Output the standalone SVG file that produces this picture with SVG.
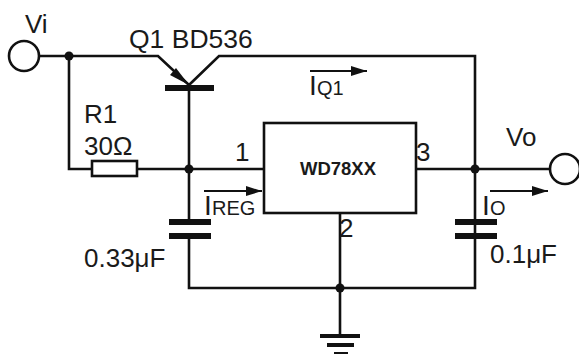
<svg xmlns="http://www.w3.org/2000/svg" width="579" height="354" viewBox="0 0 579 354">
<style>
.w{fill:none;stroke:#111;stroke-width:2.6}
.b{fill:#111;stroke:none}
.t{stroke-width:2}
text{font-family:"Liberation Sans",Arial,sans-serif;fill:#1a1a1a}
.l{font-size:26px}
.i{font-size:28px}
.s{font-size:20px}
</style>
<defs><marker id="a" markerUnits="userSpaceOnUse" markerWidth="18" markerHeight="12" refX="16" refY="6" orient="auto"><path d="M0 1L16 6L0 11Z" fill="#111"/></marker></defs>
<rect width="579" height="354" fill="#fff"/>
<g id="connectors">
<path class="w" d="M39 56H158L189 85M189 85L219 56H475V288H189V238M69 56V169H92M137 169H264M189 88V222M416 169H550M475 169V222M340 213V336"/>
<path class="b" d="M189 85L170 75L176 68Z"/>
<circle class="b" cx="69" cy="56" r="4.5"/><circle class="b" cx="189" cy="169" r="4.5"/><circle class="b" cx="475" cy="169" r="4.5"/><circle class="b" cx="340" cy="288" r="4.5"/>
<path class="w t" d="M310 71H367" marker-end="url(#a)"/>
<path class="w t" d="M204 191H262" marker-end="url(#a)"/>
<path class="w t" d="M490 191H548" marker-end="url(#a)"/>
</g>
<g id="Vi"><circle class="w" cx="24" cy="56" r="15"/><text class="l" x="25" y="33">Vi</text></g>
<g id="Q1"><rect class="b" x="165" y="85" width="49" height="6"/><text x="129" y="48" font-size="26.5">Q1 BD536</text></g>
<g id="R1"><rect class="w" x="92" y="161" width="45" height="15"/><text class="l" x="84" y="123">R1</text><text class="l" x="84" y="155">30Ω</text></g>
<g id="U1"><rect class="w" x="264" y="123" width="152" height="90"/><text x="338" y="175" text-anchor="middle" font-size="18.5" font-weight="bold">WD78XX</text><text class="l" x="235" y="161">1</text><text class="l" x="416" y="161">3</text><text class="l" x="339" y="237">2</text></g>
<g id="Vo"><circle class="w" cx="565" cy="169" r="15"/><text class="l" x="506" y="146">Vo</text></g>
<g id="C1"><rect class="b" x="169" y="219" width="42" height="6"/><rect class="b" x="169" y="233" width="42" height="6"/><text class="l" x="84" y="267">0.33μF</text></g>
<g id="C2"><rect class="b" x="455" y="219" width="42" height="6"/><rect class="b" x="455" y="233" width="42" height="6"/><text class="l" x="490" y="263">0.1μF</text></g>
<g id="GND"><rect class="b" x="320" y="334" width="40" height="4"/><rect class="b" x="327" y="343" width="27" height="4"/><rect class="b" x="334" y="352" width="14" height="2"/></g>
<g id="labels"><text class="i" x="309" y="95">I</text><text class="s" x="317" y="95">Q1</text><text class="i" x="204" y="215">I</text><text class="s" x="212" y="215">REG</text><text class="i" x="482" y="215">I</text><text class="s" x="490" y="215">O</text></g>
</svg>
